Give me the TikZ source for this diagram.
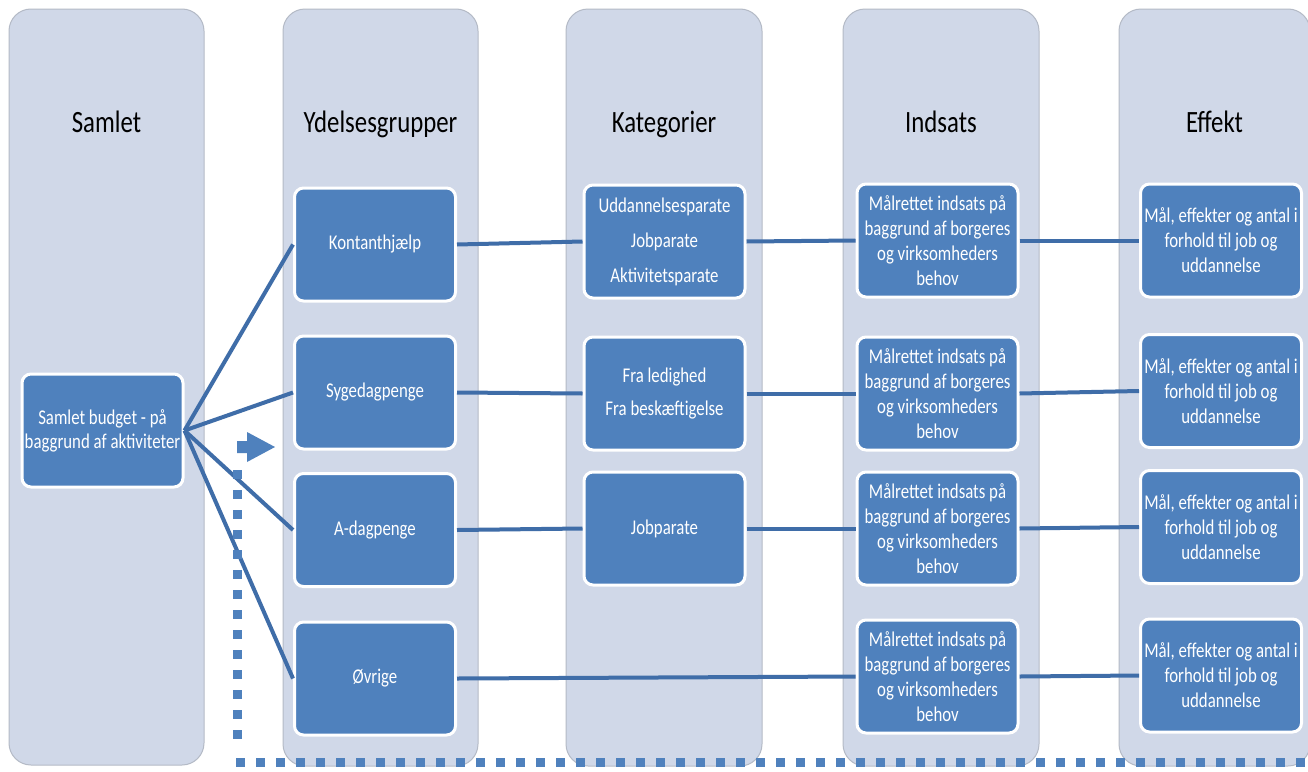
\documentclass[tikz,border=0pt]{standalone}
\usepackage{fontspec}
\setmainfont{Carlito}[FakeStretch=0.8]
\definecolor{colbg}{HTML}{D0D8E8}
\definecolor{coledge}{HTML}{B4BAC6}
\definecolor{boxblue}{HTML}{4F81BD}
\definecolor{linkblue}{HTML}{3F6DA8}
\begin{document}
\begin{tikzpicture}[x=1pt,y=-1pt,
  column/.style={fill=colbg, draw=coledge, line width=1pt, rounded corners=22pt},
  heading/.style={font=\fontsize{31}{36}\selectfont, text=black, anchor=base, inner sep=0pt},
  bluebox/.style={rectangle, fill=boxblue, draw=white, line width=3pt, rounded corners=9pt,
    text=white, align=center, minimum width=161pt, minimum height=113pt, inner sep=0pt,
    font=\fontsize{21}{25}\selectfont},
  link/.style={draw=linkblue, line width=4pt},
  dots/.style={draw=boxblue, line width=9pt, dash pattern=on 9pt off 11pt}]
\useasboundingbox (0,0) rectangle (1308,771);
\fill[white] (0,0) rectangle (1308,771);
\clip (0,0) rectangle (1308,771);

% columns
\draw[column] (9,9) rectangle (204,765);
\draw[column] (283,9) rectangle (478,766);
\draw[column] (566,9) rectangle (762,766);
\draw[column] (843,9) rectangle (1039,766);
\draw[column] (1119,9) rectangle (1310,766);

% headings
\node[heading] (h1) at (106.5,132) {Samlet};
\node[heading] (h2) at (380.5,132) {Ydelsesgrupper};
\node[heading] (h3) at (664,132) {Kategorier};
\node[heading] (h4) at (941,132) {Indsats};
\node[heading] (h5) at (1214.5,132) {Effekt};

% boxes
\node[bluebox, font=\fontsize{21}{24}\selectfont] (samlet) at (102.5,430.5) {Samlet budget - på\\baggrund af aktiviteter};

\node[bluebox] (kont) at (375,244.5) {Kontanthjælp};
\node[bluebox] (syge) at (375,392.5) {Sygedagpenge};
\node[bluebox] (adag) at (375,530) {A-dagpenge};
\node[bluebox] (ovr) at (375,678.5) {Øvrige};

\node[bluebox, font=\fontsize{21}{35}\selectfont] (udd) at (664.5,241.5) {Uddannelsesparate\\Jobparate\\Aktivitetsparate};
\node[bluebox, font=\fontsize{21}{33}\selectfont] (fra) at (664.5,393.5) {Fra ledighed\\Fra beskæftigelse};
\node[bluebox] (job) at (664.5,528.5) {Jobparate};

\node[bluebox] (ind1) at (937.5,240.5) {Målrettet indsats på\\baggrund af borgeres\\og virksomheders\\behov};
\node[bluebox] (ind2) at (937.5,393.5) {Målrettet indsats på\\baggrund af borgeres\\og virksomheders\\behov};
\node[bluebox] (ind3) at (937.5,528.5) {Målrettet indsats på\\baggrund af borgeres\\og virksomheders\\behov};
\node[bluebox] (ind4) at (937.5,676.5) {Målrettet indsats på\\baggrund af borgeres\\og virksomheders\\behov};

\node[bluebox] (eff1) at (1221,240.5) {Mål, effekter og antal i\\forhold til job og\\uddannelse};
\node[bluebox] (eff2) at (1221,391) {Mål, effekter og antal i\\forhold til job og\\uddannelse};
\node[bluebox] (eff3) at (1221,527) {Mål, effekter og antal i\\forhold til job og\\uddannelse};
\node[bluebox] (eff4) at (1221,675.5) {Mål, effekter og antal i\\forhold til job og\\uddannelse};

% connectors
\draw[link] (samlet.east) -- (kont.west);
\draw[link] (samlet.east) -- (syge.west);
\draw[link] (samlet.east) -- (adag.west);
\draw[link] (samlet.east) -- (ovr.west);

\draw[link] (kont.east) -- (udd.west);
\draw[link] (udd.east) -- (ind1.west);
\draw[link] (ind1.east) -- (eff1.west);

\draw[link] (syge.east) -- (fra.west);
\draw[link] (fra.east) -- (ind2.west);
\draw[link] (ind2.east) -- (eff2.west);

\draw[link] (adag.east) -- (job.west);
\draw[link] (job.east) -- (ind3.west);
\draw[link] (ind3.east) -- (eff3.west);

\draw[link] (ovr.east) -- (ind4.west);
\draw[link] (ind4.east) -- (eff4.west);

% dotted return path and arrow
\coordinate (dtop) at (237,470);
\coordinate (dbot) at (237,742);
\coordinate (hstart) at (236,762);
\coordinate (hend) at (1312,762);
\draw[dots] (dtop) -- (dbot);
\draw[dots] (hstart) -- (hend);
\fill[boxblue] (237,441) -- (247,441) -- (247,432) -- (275,447) -- (247,462) -- (247,453) -- (237,453) -- cycle;
\end{tikzpicture}
\end{document}
